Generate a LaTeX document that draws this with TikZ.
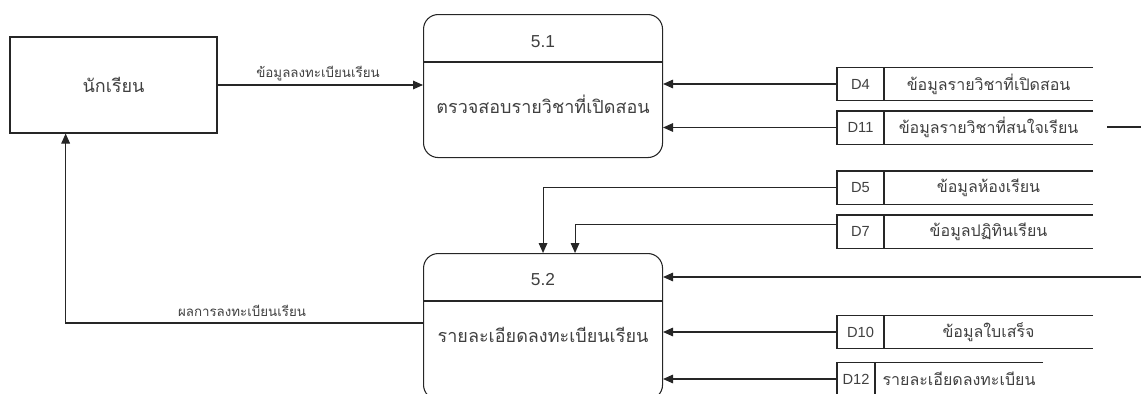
\documentclass[tikz,border=0pt]{standalone}
\usepackage{fontspec}
\setmainfont{Liberation Sans}
\newfontfamily\thaifont[Script=Thai]{Loma}
\usetikzlibrary{arrows.meta, positioning, calc}

\begin{document}
\begin{tikzpicture}[x=0.75pt, y=-0.75pt, line width=0.8pt, draw=black!85, text=black!75]

\tikzstyle{flow}  = [-{Triangle[length=7.5pt,width=6.5pt]}]
\tikzstyle{entity}  = [rectangle, draw, inner sep=0pt]
\tikzstyle{process}  = [rectangle, draw, rounded corners=11pt, inner sep=0pt]
\tikzstyle{store}  = [rectangle, inner sep=0pt]
\tikzstyle{idtext}  = [font=\fontsize{11}{13}\selectfont]
\tikzstyle{numtext}  = [font=\fontsize{13}{15}\selectfont]
\tikzstyle{storetext}  = [font=\thaifont\fontsize{12}{14}\selectfont]
\tikzstyle{proctext}  = [font=\thaifont\fontsize{13.5}{16}\selectfont]
\tikzstyle{lbl}  = [font=\thaifont\fontsize{10}{12}\selectfont]

\def\px{0.75pt}

\useasboundingbox (0,0) rectangle (1141,393);
\clip (0,0) rectangle (1141,393);

% data stores: name, y, id, text, id width, total width
\def\store#1#2#3#4#5#6{
\node (#1) [store, anchor=west, minimum width=#6*\px, minimum height=32*\px] at (837,#2) {};
\draw (#1.north east) -- (#1.north west) -- (#1.south west) -- (#1.south east);
\draw ($(#1.north west)+(#5,0)$) -- ($(#1.south west)+(#5,0)$);
\node (#1id) [idtext] at ($(#1.west)+(#5/2,0)$) {#3};
\node (#1txt) [storetext] at ($(#1.west)!0.5!(#1.east)+(#5/2,0)$) {#4};
}

\node (std) [entity, proctext, minimum width=207*\px, minimum height=96*\px] at (113.5,85) {นักเรียน};

\node (p51) [process, anchor=north west, minimum width=239*\px, minimum height=143*\px] at (423,14) {};
\draw ($(p51.north west)+(0,48)$) -- ($(p51.north east)+(0,48)$);
\node (p51num) [numtext] at ($(p51.north)+(0,28)$) {5.1};
\node (p51txt) [proctext] at ($(p51.north)+(0,90)$) {ตรวจสอบรายวิชาที่เปิดสอน};

\node (p52) [process, anchor=north west, minimum width=239*\px, minimum height=146*\px] at (423,253) {};
\draw ($(p52.north west)+(0,48)$) -- ($(p52.north east)+(0,48)$);
\node (p52num) [numtext] at ($(p52.north)+(0,27)$) {5.2};
\node (p52txt) [proctext] at ($(p52.north)+(0,82)$) {รายละเอียดลงทะเบียนเรียน};

\store{d4}{84}{D4}{ข้อมูลรายวิชาที่เปิดสอน}{47}{255}
\store{d11}{127.5}{D11}{ข้อมูลรายวิชาที่สนใจเรียน}{47}{255}
\store{d5}{187.5}{D5}{ข้อมูลห้องเรียน}{47}{255}
\store{d7}{231.5}{D7}{ข้อมูลปฏิทินเรียน}{47}{255}
\store{d10}{332}{D10}{ข้อมูลใบเสร็จ}{47}{255}
\store{d12}{379}{D12}{รายละเอียดลงทะเบียน}{38}{205}

\coordinate (d7c) at ($(d7.north west)!0.28!(d7.south west)$);
\coordinate (p52n) at ($(p52.north)+(32,0)$);
\coordinate (p52out) at ($(p52.north west)+(0,70)$);
\coordinate (stdin) at ($(std.south west)!0.27!(std.south east)$);
\coordinate (in52) at (1141,277);
\coordinate (out11a) at (1107,127);
\coordinate (out11b) at (1141,127);

\draw[flow] (std.east) -- (std.east -| p51.west);
\draw[flow] (d4.west) -- (d4.west -| p51.east);
\draw[flow] (d11.west) -- (d11.west -| p51.east);
\draw[flow] (d5.west) -| (p52.north);
\draw[flow] (d7c) -| (p52n);
\draw[flow] (in52) -- (in52 -| p52.east);
\draw[flow] (d10.west) -- (d10.west -| p52.east);
\draw[flow] (d12.west) -- (d12.west -| p52.east);
\draw[flow] (p52out) -| (stdin);
\draw (out11a) -- (out11b);

\node (lreg) [lbl] at (318,74) {ข้อมูลลงทะเบียนเรียน};
\node (lres) [lbl] at (242,311) {ผลการลงทะเบียนเรียน};

\end{tikzpicture}
\end{document}
